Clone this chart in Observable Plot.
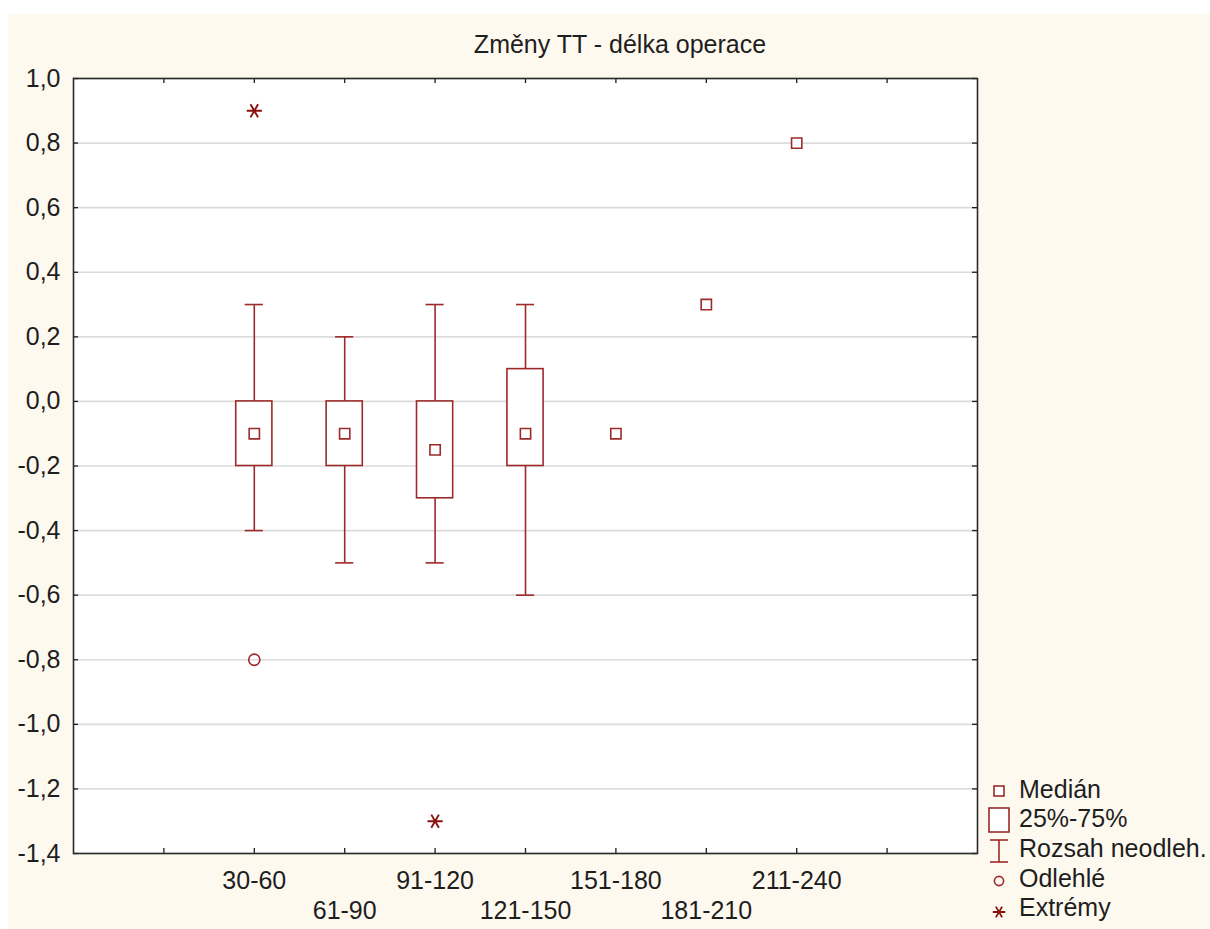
<!DOCTYPE html>
<html>
<head>
<meta charset="utf-8">
<script src="https://cdn.jsdelivr.net/npm/d3@7"></script>
<script src="https://cdn.jsdelivr.net/npm/@observablehq/plot@0.6"></script>
<style>
html, body { margin: 0; padding: 0; background: #ffffff; width: 1210px; height: 929px; overflow: hidden; }
#bg { position: absolute; left: 8px; top: 14px; width: 1202px; height: 915px; background: #fef9ef; }
#chart { position: absolute; left: 0; top: 0; }
#overlay { position: absolute; left: 0; top: 0; pointer-events: none; }
</style>
</head>
<body>
<div id="bg"></div>
<div id="chart"></div>
<svg id="overlay" width="1210" height="929"></svg>
<script>
// ---- data ----
const categories   = ["30-60", "61-90", "91-120", "121-150", "151-180", "181-210", "211-240"];
const median       = [-0.1, -0.1, -0.15, -0.1, -0.1, 0.3, 0.8];
const q1           = [-0.2, -0.2, -0.3, -0.2, null, null, null];
const q3           = [0.0, 0.0, 0.0, 0.1, null, null, null];
const whiskerLow   = [-0.4, -0.5, -0.5, -0.6, null, null, null];
const whiskerHigh  = [0.3, 0.2, 0.3, 0.3, null, null, null];
const outlierCats  = ["30-60"];
const outlierVals  = [-0.8];
const extremeCats  = ["30-60", "91-120"];
const extremeVals  = [0.9, -1.3];
const yTicks       = [-1.4, -1.2, -1.0, -0.8, -0.6, -0.4, -0.2, 0.0, 0.2, 0.4, 0.6, 0.8, 1.0];
const titleText    = "Změny TT - délka operace";
const legendLabels = ["Medián", "25%-75%", "Rozsah neodleh.", "Odlehlé", "Extrémy"];

// ---- derived tables ----
const xDomain = ["_padL", ...categories, "_padR"];
const rows = categories.map((c, i) => ({cat: c, med: median[i], q1: q1[i], q3: q3[i], lo: whiskerLow[i], hi: whiskerHigh[i]}));
const boxRows = rows.filter(d => d.q1 != null);
const outliers = outlierCats.map((c, i) => ({cat: c, value: outlierVals[i]}));
const extremes = extremeCats.map((c, i) => ({cat: c, value: extremeVals[i]}));
const row1 = categories.filter((c, i) => i % 2 === 0);
const row2 = categories.filter((c, i) => i % 2 === 1);

const W = 1210, H = 929, ML = 73, MT = 78, MR = 233, MB = 76;
const PW = W - ML - MR, PH = H - MT - MB;
const red = "#9c2a2a";
const dark = "#8b1010";
const ink = "#1e1e1e";
const font = "'Liberation Sans', Arial, sans-serif";
const fmt = v => v.toFixed(1).replace(".", ",");

const chart = Plot.plot({
  width: W, height: H,
  marginLeft: ML, marginTop: MT, marginRight: MR, marginBottom: MB,
  style: {background: "transparent", fontFamily: font, fontSize: "25px", color: ink, overflow: "visible"},
  x: {type: "band", domain: xDomain, paddingInner: 0.6, paddingOuter: 0.8, align: 0.5, round: false, axis: null},
  y: {domain: [-1.4, 1.0], axis: null},
  marks: [
    Plot.frame({fill: "white", stroke: null}),
    Plot.ruleY(yTicks, {y: d => d, stroke: "#dcdcdc", strokeWidth: 1.6}),
    // inward ticks
    Plot.ruleY(yTicks, {y: d => d, insetRight: PW - 5, stroke: ink, strokeWidth: 1.3}),
    Plot.ruleY(yTicks, {y: d => d, insetLeft: PW - 5, stroke: ink, strokeWidth: 1.3}),
    Plot.ruleX(xDomain, {x: d => d, insetTop: PH - 5, stroke: ink, strokeWidth: 1.3}),
    Plot.ruleX(xDomain, {x: d => d, insetBottom: PH - 5, stroke: ink, strokeWidth: 1.3}),
    // boxes
    Plot.ruleX(boxRows, {x: "cat", y1: "lo", y2: "hi", stroke: red, strokeWidth: 1.6}),
    Plot.tickY(boxRows, {x: "cat", y: "lo", insetLeft: 9, insetRight: 9, stroke: red, strokeWidth: 1.6}),
    Plot.tickY(boxRows, {x: "cat", y: "hi", insetLeft: 9, insetRight: 9, stroke: red, strokeWidth: 1.6}),
    Plot.barY(boxRows, {x: "cat", y1: "q1", y2: "q3", fill: "white", stroke: red, strokeWidth: 1.6}),
    Plot.dot(rows, {x: "cat", y: "med", symbol: "square", r: 5.8, fill: "white", stroke: red, strokeWidth: 1.6}),
    Plot.dot(outliers, {x: "cat", y: "value", symbol: "circle", r: 5.6, fill: "none", stroke: red, strokeWidth: 1.6}),
    Plot.dot(extremes, {x: "cat", y: "value", symbol: "asterisk", r: 7.2, rotate: 90, stroke: dark, strokeWidth: 1.9}),
    // axis labels
    Plot.text(yTicks, {y: d => d, text: fmt, frameAnchor: "left", textAnchor: "end", dx: -13, fontSize: 25, fill: ink}),
    Plot.text(row1, {x: d => d, text: d => d, frameAnchor: "bottom", lineAnchor: "bottom", dy: 35, fontSize: 25, fill: ink}),
    Plot.text(row2, {x: d => d, text: d => d, frameAnchor: "bottom", lineAnchor: "bottom", dy: 65, fontSize: 25, fill: ink}),
    Plot.frame({stroke: "#2a2a2a", strokeWidth: 1.6, fill: "none"})
  ]
});
document.getElementById("chart").appendChild(chart);

// ---- title and legend ----
const ov = d3.select("#overlay");
ov.append("text")
  .attr("x", 620).attr("y", 53)
  .attr("text-anchor", "middle")
  .attr("font-family", font).attr("font-size", 25).attr("fill", ink)
  .text(titleText);

const lg = ov.append("g").attr("fill", "none").attr("stroke", red).attr("stroke-width", 1.6);
lg.append("rect").attr("x", 994).attr("y", 786).attr("width", 10).attr("height", 10).attr("fill", "white");
lg.append("rect").attr("x", 989).attr("y", 808).attr("width", 20).attr("height", 24).attr("fill", "white");
lg.append("line").attr("x1", 999).attr("x2", 999).attr("y1", 840).attr("y2", 862);
lg.append("line").attr("x1", 990).attr("x2", 1008).attr("y1", 840).attr("y2", 840);
lg.append("line").attr("x1", 990).attr("x2", 1008).attr("y1", 862).attr("y2", 862);
lg.append("circle").attr("cx", 999).attr("cy", 881).attr("r", 4.6);
lg.append("path").attr("d", d3.symbol(d3.symbolAsterisk, 110)()).attr("stroke", dark).attr("stroke-width", 1.8)
  .attr("transform", "translate(999,912) rotate(90)");

const baselines = [798, 827, 857, 887, 916];
ov.append("g").selectAll("text").data(legendLabels).join("text")
  .attr("x", 1019).attr("y", (d, i) => baselines[i])
  .attr("font-family", font).attr("font-size", 25).attr("fill", ink)
  .text(d => d);
</script>
</body>
</html>
